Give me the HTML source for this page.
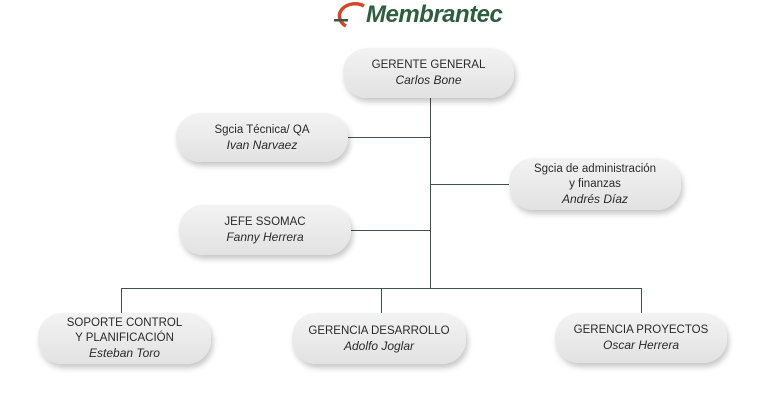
<!DOCTYPE html>
<html><head><meta charset="utf-8"><style>
body{margin:0;width:768px;height:418px;background:#fff;position:relative;overflow:hidden;font-family:"Liberation Sans",sans-serif;}
.b{position:absolute;border-radius:24px;background:linear-gradient(180deg,#f3f3f3,#e2e2e2);box-shadow:2px 4px 6px rgba(0,0,0,.22);display:flex;flex-direction:column;justify-content:center;align-items:center;text-align:center;font-size:11.5px;line-height:15px;color:#2a2a2a;}
.b i{font-size:12px;}
.l{position:absolute;background:#3b5446;}
</style></head><body>
<svg style="position:absolute;left:330px;top:0" width="40" height="30"><path d="M34 6 A14 11 0 0 0 16 26" fill="none" stroke="#d2462a" stroke-width="3.5"/><rect x="4" y="19" width="14" height="2.5" fill="#2e5e3e"/></svg>
<div style="position:absolute;left:366px;top:1px;font-size:24px;font-weight:bold;font-style:italic;color:#2e5e3e;letter-spacing:-0.5px">Membrantec</div>
<div class="l" style="left:430px;top:96px;width:1px;height:192px"></div>
<div class="l" style="left:348px;top:137px;width:82px;height:1px"></div>
<div class="l" style="left:430px;top:184px;width:80px;height:1px"></div>
<div class="l" style="left:350px;top:230px;width:80px;height:1px"></div>
<div class="l" style="left:121px;top:288px;width:521px;height:1px"></div>
<div class="l" style="left:121px;top:288px;width:1px;height:26px"></div>
<div class="l" style="left:381px;top:288px;width:1px;height:26px"></div>
<div class="l" style="left:641px;top:288px;width:1px;height:26px"></div>
<div class="b" style="left:343px;top:48px;width:171px;height:50px">GERENTE GENERAL<i>Carlos Bone</i></div>
<div class="b" style="left:176px;top:113px;width:172px;height:49px">Sgcia Técnica/ QA<i>Ivan Narvaez</i></div>
<div class="b" style="left:509px;top:158px;width:172px;height:52px">Sgcia de administración<br>y finanzas<i>Andrés Díaz</i></div>
<div class="b" style="left:179px;top:205px;width:172px;height:50px">JEFE SSOMAC<i>Fanny Herrera</i></div>
<div class="b" style="left:38px;top:313px;width:173px;height:51px">SOPORTE CONTROL<br>Y PLANIFICACIÓN<i>Esteban Toro</i></div>
<div class="b" style="left:292px;top:313px;width:174px;height:51px">GERENCIA DESARROLLO<i>Adolfo Joglar</i></div>
<div class="b" style="left:555px;top:313px;width:172px;height:50px">GERENCIA PROYECTOS<i>Oscar Herrera</i></div>
</body></html>
